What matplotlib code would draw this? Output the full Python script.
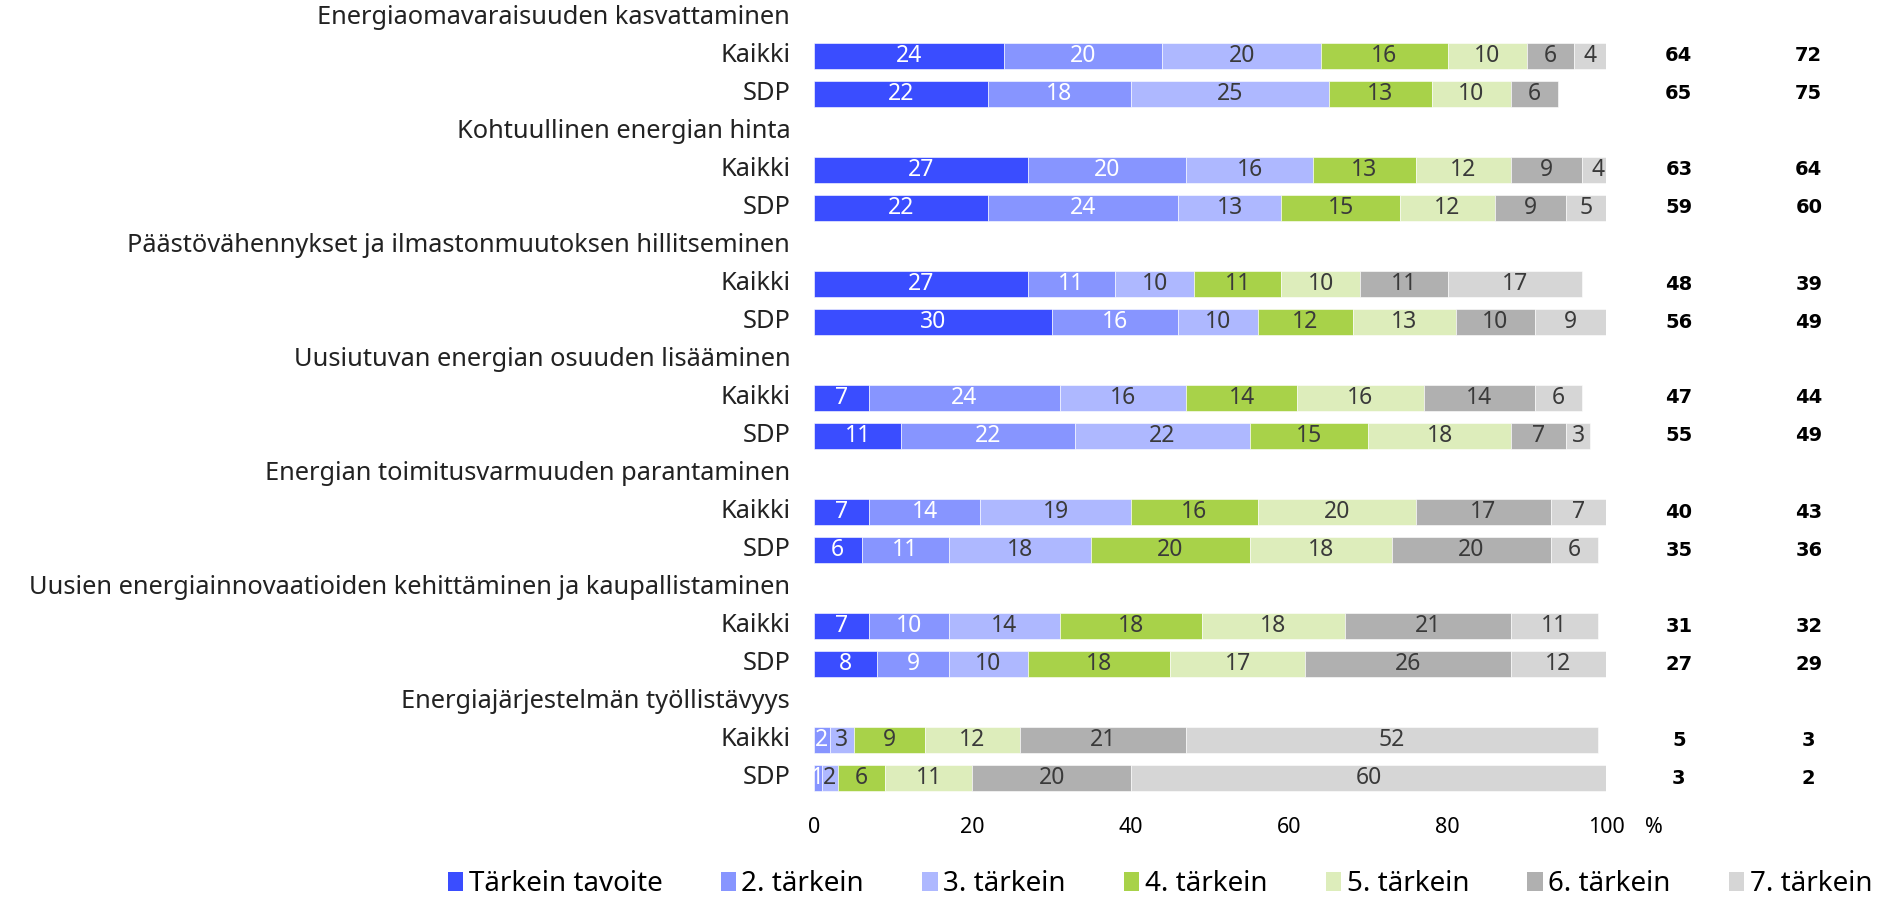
import matplotlib
matplotlib.use("Agg")
import matplotlib.pyplot as plt
from matplotlib.patches import Patch

plt.rcParams['font.family'] = ['Noto Sans', 'DejaVu Sans']

categories = [
    "Energiaomavaraisuuden kasvattaminen",
    "Kohtuullinen energian hinta",
    "Päästövähennykset ja ilmastonmuutoksen hillitseminen",
    "Uusiutuvan energian osuuden lisääminen",
    "Energian toimitusvarmuuden parantaminen",
    "Uusien energiainnovaatioiden kehittäminen ja kaupallistaminen",
    "Energiajärjestelmän työllistävyys",
]
groups = ["Kaikki", "SDP"]
series_names = ["Tärkein tavoite", "2. tärkein", "3. tärkein", "4. tärkein",
                "5. tärkein", "6. tärkein", "7. tärkein"]

kaikki = [
    [24, 20, 20, 16, 10, 6, 4],
    [27, 20, 16, 13, 12, 9, 4],
    [27, 11, 10, 11, 10, 11, 17],
    [7, 24, 16, 14, 16, 14, 6],
    [7, 14, 19, 16, 20, 17, 7],
    [7, 10, 14, 18, 18, 21, 11],
    [0, 2, 3, 9, 12, 21, 52],
]
sdp = [
    [22, 18, 25, 13, 10, 6, 0],
    [22, 24, 13, 15, 12, 9, 5],
    [30, 16, 10, 12, 13, 10, 9],
    [11, 22, 22, 15, 18, 7, 3],
    [6, 11, 18, 20, 18, 20, 6],
    [8, 9, 10, 18, 17, 26, 12],
    [0, 1, 2, 6, 11, 20, 60],
]
col1_kaikki = [64, 63, 48, 47, 40, 31, 5]
col1_sdp = [65, 59, 56, 55, 35, 27, 3]
col2_kaikki = [72, 64, 39, 44, 43, 32, 3]
col2_sdp = [75, 60, 49, 49, 36, 29, 2]
xticks = [0, 20, 40, 60, 80, 100]

colors = ["#3A4DFF", "#8795FF", "#AEB8FF", "#A8D249", "#DDEDBB", "#B0B0B0", "#D6D6D6"]
text_colors = ["white", "white", "#3a3a3a", "#3a3a3a", "#3a3a3a", "#3a3a3a", "#3a3a3a"]

W, H = 1891, 902
fig = plt.figure(figsize=(W / 100, H / 100), dpi=100)
left_px, right_px = 814, 1606
top_px, bot_px = 0, 800
ax = fig.add_axes([left_px / W, 1 - bot_px / H, (right_px - left_px) / W, (bot_px - top_px) / H])

row_h = 38.0
y_top = -18.0 / row_h
y_bot = (bot_px - 18.0) / row_h
ax.set_ylim(y_bot, y_top)
ax.set_xlim(0, 100)

label_fs = 18.3
for gi, cat in enumerate(categories):
    base = gi * 3
    ax.text(-3, base, cat, ha='right', va='center', fontsize=label_fs, color='#222222', clip_on=False)
    rows = [(groups[0], kaikki[gi], col1_kaikki[gi], col2_kaikki[gi]),
            (groups[1], sdp[gi], col1_sdp[gi], col2_sdp[gi])]
    for ri, (gname, data, c1, c2) in enumerate(rows):
        y = base + 1 + ri
        ax.text(-3, y, gname, ha='right', va='center', fontsize=label_fs, color='#222222', clip_on=False)
        left = 0
        for si, v in enumerate(data):
            if v > 0:
                ax.barh(y, v, left=left, height=0.66, color=colors[si], edgecolor='white', linewidth=0.4)
                ax.text(left + v / 2, y, str(v), ha='center', va='center', fontsize=16.5,
                        color=text_colors[si])
            left += v
        ax.text(109.2, y, str(c1), ha='center', va='center', fontsize=14, fontweight='bold',
                family='DejaVu Sans', color='black', clip_on=False)
        ax.text(125.6, y, str(c2), ha='center', va='center', fontsize=14, fontweight='bold',
                family='DejaVu Sans', color='black', clip_on=False)

ax.set_xticks(xticks)
ax.set_xticklabels([str(t) for t in xticks], fontsize=15.5)
ax.tick_params(axis='x', length=0, pad=12)
ax.set_yticks([])
for s in ax.spines.values():
    s.set_visible(False)
ax.annotate("%", xy=(106, 0), xycoords=('data', 'axes fraction'), xytext=(0, -12),
            textcoords='offset points', ha='center', va='top', fontsize=15.5, annotation_clip=False)

handles = [Patch(facecolor=c, edgecolor='none') for c in colors]
fig.legend(handles, series_names, loc='center', bbox_to_anchor=(1160 / W, 1 - 884 / H),
           ncol=7, frameon=False, fontsize=20, handlelength=0.55, handleheight=0.65,
           handletextpad=0.2, columnspacing=2.1, borderaxespad=0, borderpad=0)

fig.savefig("out.png", dpi=100)
